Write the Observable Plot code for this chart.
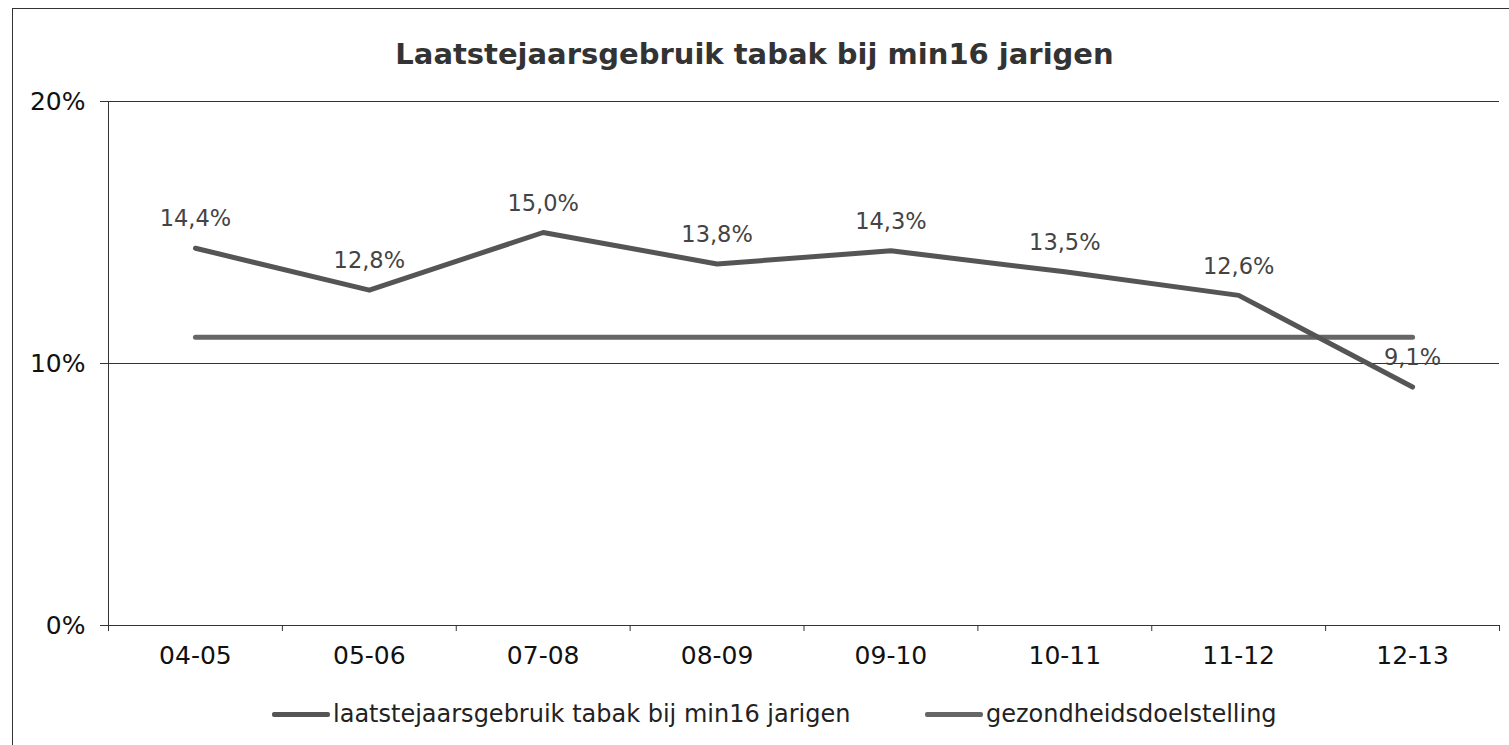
<!DOCTYPE html>
<html>
<head>
<meta charset="utf-8">
<script src="https://cdn.jsdelivr.net/npm/d3@7"></script>
<script src="https://cdn.jsdelivr.net/npm/@observablehq/plot@0.6"></script>
<style>
  html, body { margin: 0; padding: 0; background: #fff; overflow: hidden; }
  body { width: 1509px; height: 745px; position: relative; font-family: "DejaVu Sans", Verdana, sans-serif; }
  #frame { position: absolute; left: 12px; top: 8px; width: 1520px; height: 760px; border: 1.5px solid #333; box-sizing: border-box; z-index: 5; pointer-events: none; }
  #title { position: absolute; left: 0; top: 37px; width: 1509px; text-align: center; font-weight: bold; font-size: 29px; color: #333; }
  #chart { position: absolute; left: 0; top: 80px; }
  #legend { position: absolute; top: 699px; left: 0; width: 1509px; height: 30px; font-size: 24px; color: #222; }
  .item { position: absolute; top: 0; display: flex; align-items: center; height: 30px; }
  .sw { width: 58px; height: 5px; background: #5a5a5a; border-radius: 2px; margin-right: 3px; }
</style>
</head>
<body>
<div id="frame"></div>
<div id="title"></div>
<div id="chart"></div>
<div id="legend"></div>
<script>
const title = "Laatstejaarsgebruik tabak bij min16 jarigen";
const categories = ["04-05", "05-06", "07-08", "08-09", "09-10", "10-11", "11-12", "12-13"];
const usage = [14.4, 12.8, 15.0, 13.8, 14.3, 13.5, 12.6, 9.1];
const goal = [11, 11, 11, 11, 11, 11, 11, 11];
const yTicks = [0, 10, 20];
const seriesNames = ["laatstejaarsgebruik tabak bij min16 jarigen", "gezondheidsdoelstelling"];

document.getElementById("title").textContent = title;

const rows = categories.map((c, i) => ({cat: c, idx: i, value: usage[i], goal: goal[i]}));
const boundaries = d3.range(categories.length + 1);
const centers = categories.map((c, i) => i + 0.5);
const fmt = v => v.toFixed(1).replace(".", ",") + "%";
const X = d => d.idx + 0.5;

const chart = Plot.plot({
  width: 1509,
  height: 600,
  marginTop: 21,
  marginBottom: 55,
  marginLeft: 108,
  marginRight: 10,
  style: {fontFamily: "DejaVu Sans, Verdana, sans-serif", color: "#111", background: "transparent"},
  x: {type: "linear", domain: [0, categories.length]},
  y: {domain: [0, 20]},
  marks: [
    Plot.gridY([10, 20], {stroke: "#333", strokeOpacity: 1, strokeWidth: 1}),
    Plot.ruleY([0], {stroke: "#333", strokeWidth: 1}),
    Plot.ruleX([0], {y1: 0, y2: 20, stroke: "#333", strokeWidth: 1}),
    Plot.axisY(yTicks, {tickSize: 8, tickPadding: 15, fontSize: 25, stroke: "#333", fill: "#111", tickFormat: d => d + "%", label: null}),
    Plot.axisX(boundaries, {tickSize: 6, tickFormat: () => "", stroke: "#333", label: null}),
    Plot.axisX(centers, {tickSize: 0, tickPadding: 21, fontSize: 25, fill: "#111", tickFormat: d => categories[Math.floor(d)], label: null}),
    Plot.line(rows, {x: X, y: "goal", stroke: "#666", strokeWidth: 5, strokeLinecap: "round"}),
    Plot.line(rows, {x: X, y: "value", stroke: "#555", strokeWidth: 5, strokeLinecap: "round", strokeLinejoin: "round"}),
    Plot.text(rows, {x: X, y: "value", text: d => fmt(d.value), dy: -29, fontSize: 22.5, fill: "#444"})
  ]
});
document.getElementById("chart").appendChild(chart);

const legend = document.getElementById("legend");
const lefts = [272, 925];
seriesNames.forEach((name, i) => {
  const item = document.createElement("div");
  item.className = "item";
  item.style.left = lefts[i] + "px";
  const sw = document.createElement("span");
  sw.className = "sw";
  sw.style.background = i === 0 ? "#555" : "#666";
  const t = document.createElement("span");
  t.textContent = name;
  item.appendChild(sw);
  item.appendChild(t);
  legend.appendChild(item);
});
</script>
</body>
</html>
